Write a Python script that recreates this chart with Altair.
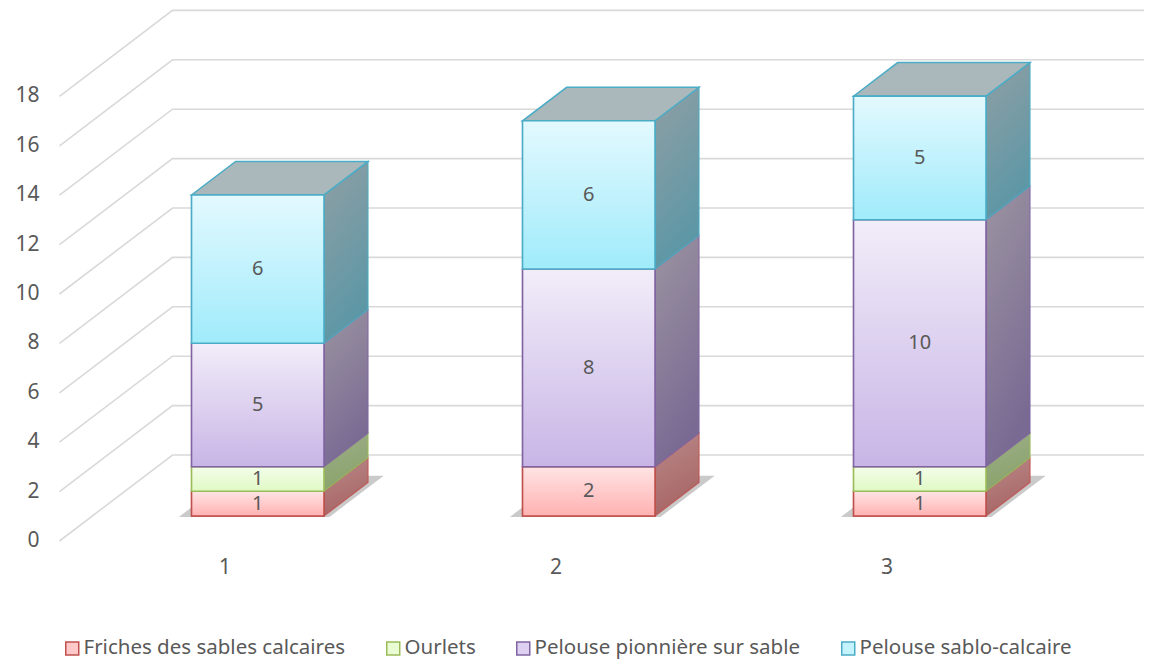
import altair as alt
import pandas as pd

# ---------------- data ----------------
categories = ["1", "2", "3"]
series = ["Friches des sables calcaires", "Ourlets",
          "Pelouse pionnière sur sable", "Pelouse sablo-calcaire"]
friches = [1, 2, 1]
ourlets = [1, 0, 1]
pionniere = [5, 8, 10]
sablo = [6, 6, 5]
y_ticks = [0, 2, 4, 6, 8, 10, 12, 14, 16, 18]

values = [friches, ourlets, pionniere, sablo]

# ---------------- style ----------------
FONT = "Noto Sans"
TEXT = "#595959"
light = ["#ffc9c9", "#eafcd4", "#ddd0f0", "#c4f2fd"]
dark = ["#c0504d", "#9bbb59", "#8064a2", "#4bacc6"]
front_top = ["#ffe4e4", "#f4fde9", "#f2edf9", "#e3f9fe"]
front_bot = ["#ffb1b1", "#e0f9c5", "#c8b5e6", "#a0ebfb"]
side_top = ["#b98a8a", "#9fae8a", "#9c94a1", "#909fa4"]
side_bot = ["#a86565", "#89a36b", "#796a93", "#5c97a6"]
top_col = ["#c7a9a9", "#b9c6a9", "#b3aebb", "#aab8bc"]

# 3D projection (oblique): depth d in [0,1] floor depth
DX = 113 / 331      # horizontal shift in category units for full depth
DY = 86 / 24.7      # vertical shift in value units for full depth
D_FRONT = 0.29      # bar front face depth
DEPTH = 0.39        # bar depth
HALF = 0.2          # half bar width
LEFT = 0.5
RIGHT = 3.9

W, H = 1136, 651
X0 = 0.3444
xs = alt.Scale(domain=[X0, X0 + W / 331], nice=False, zero=False)
ys = alt.Scale(domain=[-4.777, 21.579], nice=False, zero=False)


def X(c, d):
    return c + d * DX


def V(v, d):
    return v + d * DY


# ---------------- tables ----------------
grid_rows, tick_rows = [], []
for t in y_ticks:
    pts = [(X(LEFT, 0), V(t, 0)), (X(LEFT, 1), V(t, 1)), (RIGHT, V(t, 1))]
    for i, (x, y) in enumerate(pts):
        grid_rows.append({"tick": t, "pt": i, "x": x, "y": y})
    tick_rows.append({"x": LEFT, "y": t, "label": str(t)})
grid_df = pd.DataFrame(grid_rows)
tick_df = pd.DataFrame(tick_rows)

cat_df = pd.DataFrame({"x": [i + 1 for i in range(len(categories))],
                       "y": [0] * len(categories), "label": categories})

front_rows, side_rows, top_rows, shadow_rows = [], [], [], []
d0, d1 = D_FRONT, D_FRONT + DEPTH
for ci, cat in enumerate(categories):
    c = ci + 1
    base = 0
    last = None
    for si, s in enumerate(series):
        val = values[si][ci]
        if val <= 0:
            continue
        lo, hi = base, base + val
        front_rows.append({"series": s, "cat": cat,
                           "xl": X(c - HALF, d0), "xr": X(c + HALF, d0),
                           "xc": X(c, d0),
                           "y0": V(lo, d0), "y1": V(hi, d0),
                           "mid": V((lo + hi) / 2, d0), "label": str(val)})
        seg = f"{cat}-{si}"
        side_rows.append({"series": s, "seg": seg, "x": X(c + HALF, d0),
                          "lo": V(lo, d0), "hi": V(hi, d0)})
        side_rows.append({"series": s, "seg": seg, "x": X(c + HALF, d1),
                          "lo": V(lo, d1), "hi": V(hi, d1)})
        last = (s, hi)
        base = hi
    s, top = last
    seg = f"{cat}-top"
    for x, lo, hi in [(X(c - HALF, d0), V(top, d0), V(top, d0)),
                      (X(c - HALF, d1), V(top, d0), V(top, d1)),
                      (X(c + HALF, d0), V(top, d0), V(top, d1)),
                      (X(c + HALF, d1), V(top, d1), V(top, d1))]:
        top_rows.append({"series": s, "seg": seg, "x": x, "lo": lo, "hi": hi})
    # floor shadow
    sd0, sd1 = d0 - 0.01, d1 + 0.08
    xl_s, xr_s = c - HALF - 0.035, c + HALF + 0.02
    for x, lo, hi in [(X(xl_s, sd0), V(0, sd0), V(0, sd0)),
                      (X(xl_s, sd1), V(0, sd0), V(0, sd1)),
                      (X(xr_s, sd0), V(0, sd0), V(0, sd1)),
                      (X(xr_s, sd1), V(0, sd1), V(0, sd1))]:
        shadow_rows.append({"seg": cat, "x": x, "lo": lo, "hi": hi})

front_df = pd.DataFrame(front_rows)
side_df = pd.DataFrame(side_rows)
top_df = pd.DataFrame(top_rows)
shadow_df = pd.DataFrame(shadow_rows)


def grad(c_top, c_bot, x2=0.0):
    return alt.Gradient(gradient="linear",
                        stops=[alt.GradientStop(color=c_top, offset=0),
                               alt.GradientStop(color=c_bot, offset=1)],
                        x1=0, x2=x2, y1=0, y2=1)


# ---------------- layers ----------------
grid = alt.Chart(grid_df).mark_line(color="#d9d9d9", strokeWidth=1.6).encode(
    x=alt.X("x:Q", scale=xs, axis=None),
    y=alt.Y("y:Q", scale=ys, axis=None),
    detail="tick:N", order="pt:Q")

ylabels = alt.Chart(tick_df).mark_text(
    align="right", baseline="middle", dx=-20, dy=0,
    font=FONT, fontSize=21, color=TEXT).encode(
    x=alt.X("x:Q", scale=xs, axis=None),
    y=alt.Y("y:Q", scale=ys, axis=None), text="label:N")

xlabels = alt.Chart(cat_df).mark_text(
    align="center", baseline="middle", dy=27,
    font=FONT, fontSize=21, color=TEXT).encode(
    x=alt.X("x:Q", scale=xs, axis=None),
    y=alt.Y("y:Q", scale=ys, axis=None), text="label:N")

shadow = alt.Chart(shadow_df).mark_area(color="#8a8a8a", opacity=0.45).encode(
    x=alt.X("x:Q", scale=xs, axis=None),
    y=alt.Y("lo:Q", scale=ys, axis=None), y2="hi:Q", detail="seg:N")

layers = [grid, ylabels, xlabels, shadow]

for k, s in enumerate(series):
    sub = side_df[side_df["series"] == s]
    if len(sub):
        layers.append(alt.Chart(sub).mark_area(
            fill=grad(side_top[k], side_bot[k], 0.3), stroke=dark[k],
            strokeWidth=1.2, strokeOpacity=0.8).encode(
            x=alt.X("x:Q", scale=xs, axis=None),
            y=alt.Y("lo:Q", scale=ys, axis=None), y2="hi:Q",
            detail="seg:N"))
for k, s in enumerate(series):
    sub = top_df[top_df["series"] == s]
    if len(sub):
        layers.append(alt.Chart(sub).mark_area(
            fill=top_col[k], stroke=dark[k], strokeWidth=1.5).encode(
            x=alt.X("x:Q", scale=xs, axis=None),
            y=alt.Y("lo:Q", scale=ys, axis=None), y2="hi:Q",
            detail="seg:N"))

leg = alt.Legend(orient="none", legendX=54, legendY=630, direction="horizontal",
                 title=None, symbolType="square", symbolSize=169,
                 symbolStrokeWidth=1.5, labelFont=FONT, labelFontSize=20.5,
                 labelColor=TEXT, labelLimit=500, columnPadding=37,
                 labelOffset=1, padding=0)

front_flat = alt.Chart(front_df).mark_rect(strokeWidth=1.5).encode(
    x=alt.X("xl:Q", scale=xs, axis=None), x2="xr:Q",
    y=alt.Y("y0:Q", scale=ys, axis=None), y2="y1:Q",
    fill=alt.Fill("series:N", scale=alt.Scale(domain=series, range=light),
                  sort=series, legend=leg),
    stroke=alt.Stroke("series:N", scale=alt.Scale(domain=series, range=dark),
                      sort=series, legend=leg))
layers.append(front_flat)

for k, s in enumerate(series):
    sub = front_df[front_df["series"] == s]
    layers.append(alt.Chart(sub).mark_rect(
        fill=grad(front_top[k], front_bot[k]), stroke=dark[k],
        strokeWidth=1.5).encode(
        x=alt.X("xl:Q", scale=xs, axis=None), x2="xr:Q",
        y=alt.Y("y0:Q", scale=ys, axis=None), y2="y1:Q"))

labels = alt.Chart(front_df).mark_text(
    align="center", baseline="middle", font=FONT, fontSize=20,
    color=TEXT).encode(
    x=alt.X("xc:Q", scale=xs, axis=None),
    y=alt.Y("mid:Q", scale=ys, axis=None), text="label:N")
layers.append(labels)

chart = alt.layer(*layers).properties(
    width=W, height=H,
    autosize=alt.AutoSizeParams(type="none"), padding=0,
    background="white"
).configure_view(strokeWidth=0)

chart.save("out.html", embed_options={"renderer": "svg", "actions": False})
